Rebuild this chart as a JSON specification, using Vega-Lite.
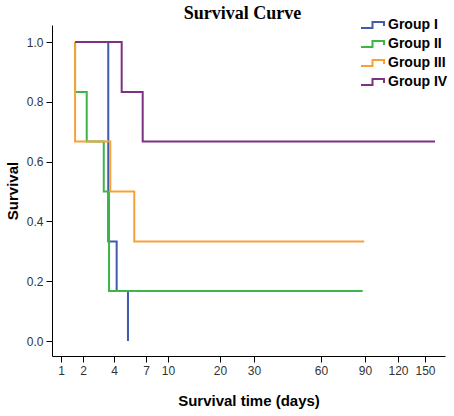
{
  "$schema": "https://vega.github.io/schema/vega-lite/v6.json",
  "autosize": "none",
  "width": 393,
  "height": 331,
  "padding": {"left": 52, "top": 25, "right": 9, "bottom": 60},
  "background": "white",
  "title": {"text": "Survival Curve", "font": "Liberation Serif", "fontSize": 18, "fontWeight": "bold", "color": "black", "anchor": "middle", "frame": "group", "baseline": "alphabetic", "dx": -6, "offset": 4, "dy": 26},
  "config": {"view": {"stroke": null}},
  "data": {"values": [
    {"group": "Group I", "seq": 0, "time": 1.64, "survival": 1.0},
    {"group": "Group I", "seq": 1, "time": 3.63, "survival": 0.333},
    {"group": "Group I", "seq": 2, "time": 4.25, "survival": 0.167},
    {"group": "Group I", "seq": 3, "time": 5.31, "survival": 0.0},
    {"group": "Group II", "seq": 0, "time": 1.64, "survival": 1.0},
    {"group": "Group II", "seq": 1, "time": 1.64, "survival": 0.833},
    {"group": "Group II", "seq": 2, "time": 2.24, "survival": 0.667},
    {"group": "Group II", "seq": 3, "time": 3.34, "survival": 0.5},
    {"group": "Group II", "seq": 4, "time": 3.68, "survival": 0.167},
    {"group": "Group II", "seq": 5, "time": 88.4, "survival": 0.167},
    {"group": "Group III", "seq": 0, "time": 1.64, "survival": 1.0},
    {"group": "Group III", "seq": 1, "time": 1.64, "survival": 0.667},
    {"group": "Group III", "seq": 2, "time": 3.76, "survival": 0.5},
    {"group": "Group III", "seq": 3, "time": 5.9, "survival": 0.333},
    {"group": "Group III", "seq": 4, "time": 89.5, "survival": 0.333},
    {"group": "Group IV", "seq": 0, "time": 1.64, "survival": 1.0},
    {"group": "Group IV", "seq": 1, "time": 4.72, "survival": 0.833},
    {"group": "Group IV", "seq": 2, "time": 6.69, "survival": 0.667},
    {"group": "Group IV", "seq": 3, "time": 161, "survival": 0.667}
  ]},
  "mark": {"type": "line", "interpolate": "step-after", "strokeWidth": 2, "clip": true},
  "encoding": {
    "x": {"field": "time", "type": "quantitative",
      "scale": {"type": "linear", "domain": [0.59, 1, 2, 4, 7, 10, 20, 30, 60, 90, 120, 150, 172], "range": [0, 9, 31, 62, 94, 116, 168, 202, 269, 313, 346, 373, 393], "nice": false, "zero": false},
      "axis": {"title": "Survival time (days)", "values": [1, 2, 4, 7, 10, 20, 30, 60, 90, 120, 150], "format": "d", "grid": false,
        "domainColor": "black", "tickColor": "black", "tickSize": 6, "labelFont": "Liberation Sans", "labelFontSize": 12, "labelColor": "#333333",
        "titleFont": "Liberation Sans", "titleFontSize": 15, "titleFontWeight": "bold", "titleColor": "black", "titlePadding": 17, "labelPadding": 3}},
    "y": {"field": "survival", "type": "quantitative",
      "scale": {"domain": [-0.05, 1.057], "nice": false, "zero": false},
      "axis": {"title": "Survival", "values": [0, 0.2, 0.4, 0.6, 0.8, 1.0], "format": ".1f", "grid": false,
        "domainColor": "black", "tickColor": "black", "tickSize": 6, "labelFont": "Liberation Sans", "labelFontSize": 12, "labelColor": "#333333",
        "titleFont": "Liberation Sans", "titleFontSize": 15, "titleFontWeight": "bold", "titleColor": "black", "titlePadding": 6, "labelPadding": 3}},
    "color": {"field": "group", "type": "nominal",
      "scale": {"domain": ["Group I", "Group II", "Group III", "Group IV"], "range": ["#3F5BA9", "#3DB549", "#F7A13A", "#7D3182"]},
      "legend": {"title": null, "orient": "none", "legendX": 310.5, "legendY": -10, "symbolType": "M -1.28 0.33 L 0 0.33 L 0 -0.33 L 1.28 -0.33 L 1.28 0.1", "symbolStrokeWidth": 2, "symbolSize": 324, "labelFont": "Liberation Sans", "labelFontSize": 14, "labelFontWeight": "bold", "labelColor": "black", "rowPadding": 2, "labelOffset": 5.5}},
    "order": {"field": "seq", "type": "quantitative"}
  }
}
